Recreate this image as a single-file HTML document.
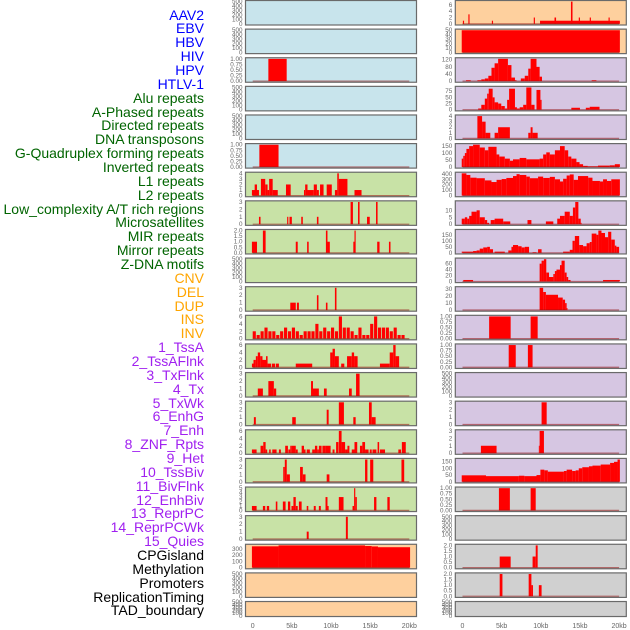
<!DOCTYPE html>
<html><head><meta charset="utf-8"><style>
html,body{margin:0;padding:0;background:#fff;width:630px;height:630px;overflow:hidden}
#lbls{position:absolute;left:0;top:0;width:204px;height:630px}
.lb{position:absolute;right:0;font:14px "Liberation Sans",sans-serif;white-space:nowrap;line-height:14px}
svg{position:absolute;left:0;top:0}
</style></head><body>
<div id="lbls"></div>
<svg id="chart" width="630" height="630"></svg>
<script>
// ---- labels ----
const labelNames=["AAV2","EBV","HBV","HIV","HPV","HTLV-1","Alu repeats","A-Phased repeats","Directed repeats","DNA transposons","G-Quadruplex forming repeats","Inverted repeats","L1 repeats","L2 repeats","Low_complexity A/T rich regions","Microsatellites","MIR repeats","Mirror repeats","Z-DNA motifs","CNV","DEL","DUP","INS","INV","1_TssA","2_TssAFlnk","3_TxFlnk","4_Tx","5_TxWk","6_EnhG","7_Enh","8_ZNF_Rpts","9_Het","10_TssBiv","11_BivFlnk","12_EnhBiv","13_ReprPC","14_ReprPCWk","15_Quies","CPGisland","Methylation","Promoters","ReplicationTiming","TAD_boundary"];
const labelGroups=[6,13,5,15,5];
const groupColors=["#0000ff","#006400","#ffa500","#a020f0","#000000"];

// ---- x axis ----
const xTicks=[0,5,10,15,20];
const xTickLabels=["0","5kb","10kb","15kb","20kb"];

// ---- tick sets ----
const T500=[0,100,200,300,400,500], T1=[0,0.25,0.5,0.75,1], T2=[0,0.5,1,1.5,2];
const T3=[0,1,2,3], T4=[0,1,2,3,4], T5=[0,1,2,3,4,5], T6=[0,2,4,6];

// ---- left column segments [startKb,endKb,value] ----
const L1=[],L2=[],L4=[],L5=[],L10=[],L21=[],L22=[];
const L3=[[2.0,4.34,1]];
const L6=[[0.85,3.3,1]];
const L7=[[-0.1,0.8,1],[0.25,0.55,2],[1.05,1.6,3],[1.6,1.9,2],[1.9,2.1,1],[2.1,2.55,3],[2.55,3.2,1],[4.25,4.85,2],[6.55,6.7,1],[6.7,7.0,2],[7.0,7.8,1],[7.8,8.2,2],[8.2,8.45,1],[8.6,9.05,2],[9.45,10.1,2],[10.5,10.8,1],[10.8,11.0,4],[11.0,12.1,3],[13.0,13.9,1]];
const L8=[[0.8,1.0,1],[4.4,4.55,1],[4.7,5.0,1],[6.2,6.4,1],[8.2,8.4,1],[12.5,12.8,3],[13.45,13.65,3],[14.6,14.95,1],[15.75,15.95,3]];
const L9=[[-0.1,0.55,1],[1.3,1.65,2],[5.5,5.75,1],[6.95,7.15,1],[9.35,9.55,2],[9.55,9.85,1],[12.85,13.0,1],[13.0,13.15,2],[15.9,16.2,1],[17.4,17.6,1]];
const L11=[[4.8,5.5,1],[5.65,5.9,1],[8.2,8.4,2],[9.35,9.55,1],[10.5,10.7,3]];
const L12vals=[2,1,2,3,2,2,1,2,3,2,3,2,1,2,2,2,4,2,3,2,3,2,6,3,3,2,1,3,1,1,4,6,3,3,3,2,3,1,1,0];
const L13=[[-0.1,0.3,1],[0.1,0.4,2],[0.4,0.65,3],[0.65,0.95,4],[0.95,1.25,3],[1.25,1.7,2],[1.7,1.9,3],[1.9,2.35,1],[2.45,2.85,1],[2.95,3.35,1],[5.5,7.6,1],[9.9,10.2,4],[10.2,10.5,5],[10.5,11.0,3],[11.3,11.7,1],[12.05,12.65,3],[12.65,12.95,4],[12.95,13.4,3],[16.25,17.5,1],[17.5,17.95,4],[17.95,18.25,6],[18.25,18.7,3]];
const L14=[[0.65,1.3,1],[2.0,2.7,2],[2.7,3.0,1],[7.45,7.7,2],[7.7,8.45,1],[9.1,9.45,1],[12.3,12.65,1],[13.2,13.65,3]];
const L15=[[0.15,0.4,1],[5.05,5.5,1],[9.45,9.7,2],[11.0,11.65,3],[12.85,13.15,1],[14.85,15.2,3],[15.2,15.7,1]];
const L16=[[-0.1,0.5,1],[1.0,1.35,2],[1.35,1.65,3],[1.65,1.85,1],[2.1,2.3,1],[2.5,3.05,1],[3.35,3.6,1],[4.15,4.5,2],[4.55,4.8,1],[4.8,4.98,2],[4.98,5.5,2],[5.5,5.75,1],[6.25,6.55,2],[6.55,6.75,1],[6.9,7.3,1],[7.6,7.95,1],[7.95,8.25,2],[8.25,8.45,1],[8.45,8.8,2],[8.9,9.25,2],[9.25,9.95,2],[10.2,10.45,1],[10.65,10.95,3],[11.0,11.35,6],[11.35,11.8,3],[11.8,12.1,1],[12.1,12.35,2],[12.65,13.0,1],[13.0,13.35,3],[13.7,14.0,2],[14.0,14.35,3],[14.35,14.8,1],[14.95,15.2,1],[15.3,15.8,1],[15.95,16.15,3],[16.25,16.9,1],[18.6,18.95,1],[19.05,19.55,3]];
const L17=[[3.9,4.1,2],[4.1,4.35,3],[4.35,4.75,1],[6.05,6.4,2],[6.4,6.75,1],[9.45,9.8,1],[14.35,14.65,3],[15.0,15.4,3],[19.0,19.35,3]];
const L18=[[-0.1,0.5,1],[1.3,1.6,1],[1.8,2.1,1],[2.95,3.15,2],[3.85,4.2,2],[4.5,4.8,2],[4.95,5.2,1],[5.2,5.5,3],[5.5,5.75,1],[5.9,6.25,2],[6.9,7.1,1],[7.8,8.05,1],[8.45,8.7,1],[9.3,9.55,3],[9.55,9.7,1],[11.0,11.6,3],[12.75,12.95,1],[12.95,13.1,5],[13.1,13.3,3],[15.5,15.8,3],[17.2,17.5,3]];
const L19=[[6.9,7.15,1],[11.9,12.15,3]];
const L20=[[-0.1,3.3,340],[3.3,14.35,355],[14.35,15.2,345],[15.2,16.0,338],[16.0,20.1,326]];

// ---- right column ----
const R14=[],R19=[],R22=[];
const R1=[[0.05,0.2,1],[0.75,0.9,3],[3.75,3.9,1],[9.1,9.25,2],[9.9,20.1,1],[11.75,11.95,2],[13.85,14.05,7],[14.85,15.0,2],[16.25,16.4,2],[18.65,18.8,2]];
const R2=[[-0.1,20.1,50]];
const R3=[[0.45,1.05,5],[1.9,2.4,5],[2.4,2.85,10],[2.85,3.3,15],[3.3,3.7,30],[3.7,4.1,75],[4.1,4.55,100],[4.55,5.8,125],[5.8,6.25,90],[6.25,6.7,20],[6.7,6.9,5],[7.45,7.95,15],[7.95,8.4,30],[8.4,8.7,70],[8.7,9.45,125],[9.45,9.85,80],[9.85,10.15,25],[16.5,17.1,5]];
const R4=[[2.0,2.4,5],[2.4,2.85,20],[2.85,3.15,45],[3.15,3.35,65],[3.35,3.85,85],[3.85,4.1,50],[4.1,4.55,30],[4.55,4.95,25],[4.95,5.4,15],[5.4,5.7,5],[5.7,5.95,40],[5.95,6.7,85],[6.7,6.95,10],[6.95,7.3,5],[7.3,7.75,10],[7.75,8.15,20],[8.15,8.8,90],[8.8,9.2,20],[9.45,9.95,80],[9.95,10.1,40],[13.9,15.0,8],[15.75,16.25,8],[16.25,17.5,12]];
const R5=[[1.9,2.5,4],[2.5,2.95,3],[2.95,3.55,1],[4.1,4.55,1],[4.55,6.05,2],[8.4,8.7,1],[8.7,8.95,2],[8.95,9.6,1]];
const R6=[[-0.1,0.1,60],[0.1,0.3,80],[0.3,0.5,100],[0.5,0.85,130],[0.85,1.35,150],[1.35,2.2,160],[2.2,2.85,140],[2.85,3.3,120],[3.3,4.35,145],[4.35,4.7,90],[4.7,5.4,75],[5.4,6.05,60],[6.05,6.45,45],[6.45,7.3,55],[7.3,8.15,65],[8.15,9.85,55],[9.85,10.3,60],[10.3,10.7,90],[10.7,11.15,105],[11.15,11.8,90],[11.8,12.45,120],[12.45,13.05,150],[13.05,13.5,120],[13.5,13.9,75],[13.9,14.55,60],[14.55,14.95,35],[14.95,15.4,20],[15.4,16.0,8],[16.0,17.3,5],[17.3,18.8,10],[18.8,19.45,12],[19.45,20.1,20]];
const R7=[[-0.1,0.5,410],[0.5,1.0,380],[1.0,1.8,330],[1.8,2.85,320],[2.85,3.7,280],[3.7,4.35,250],[4.35,5.0,290],[5.0,5.6,305],[5.6,6.45,325],[6.45,6.9,360],[6.9,7.3,395],[7.3,8.15,380],[8.15,8.6,350],[8.6,9.65,320],[9.65,10.3,350],[10.3,11.15,325],[11.15,11.8,345],[11.8,12.45,300],[12.45,12.85,260],[12.85,13.3,310],[13.3,13.7,370],[13.7,14.2,390],[14.2,14.75,290],[14.75,16.05,360],[16.05,16.6,330],[16.6,17.55,270],[17.55,17.95,260],[17.95,18.45,300],[18.45,19.0,270],[19.0,20.1,300]];
const R8=[[-0.1,0.3,4],[0.3,0.6,5],[0.6,0.85,4],[0.85,1.15,6],[1.15,1.8,9],[1.8,2.2,10],[2.2,2.85,5],[2.85,3.15,3],[3.15,3.4,1],[3.6,4.1,3],[4.1,5.2,4],[5.2,6.1,2],[8.3,8.8,3],[10.65,11.6,2],[12.1,12.45,4],[12.45,13.05,6],[13.05,13.7,9],[13.7,14.1,6],[14.1,14.4,12],[14.4,14.8,16],[14.8,15.1,4],[15.1,15.2,1]];
const R9=[[-0.1,1.35,10],[1.35,1.8,15],[1.8,2.2,20],[2.2,2.65,35],[2.65,3.15,45],[3.15,3.5,50],[3.5,3.9,30],[4.1,5.4,10],[5.85,6.25,20],[6.25,6.45,50],[6.45,7.1,65],[7.1,7.55,55],[7.55,7.95,45],[7.95,8.5,50],[8.95,9.45,5],[9.65,10.1,30],[12.85,13.7,10],[13.7,14.05,25],[14.05,14.35,100],[14.35,14.9,140],[14.9,15.4,65],[15.4,15.85,55],[15.85,16.25,80],[16.25,16.5,90],[16.5,17.1,160],[17.1,17.35,150],[17.35,17.75,185],[17.75,18.2,165],[18.2,18.6,130],[18.6,19.0,175],[19.0,19.45,110],[19.45,19.65,60],[19.65,20.0,50]];
const R10=[[0.1,1.35,5],[9.85,10.1,60],[10.1,10.4,70],[10.4,10.7,75],[10.7,11.05,30],[11.05,11.6,15],[11.6,11.8,25],[11.8,12.0,35],[12.0,12.45,40],[12.45,12.65,55],[12.65,13.05,70],[13.05,13.3,30],[13.3,13.5,15],[13.5,13.8,5],[17.95,20.1,5]];
const R11=[[9.85,10.3,32],[10.3,10.65,26],[10.65,12.2,22],[12.2,12.8,18],[12.8,13.1,15],[13.1,13.3,10],[13.3,13.4,3]];
const R12=[[3.4,6.15,1],[8.7,9.6,1]];
const R13=[[5.9,6.8,1],[8.35,8.95,1]];
const R15=[[10.1,10.75,3]];
const R16=[[2.35,4.35,1],[9.75,9.85,1],[9.85,10.4,3]];
const R17=[[-0.1,3.0,48],[3.0,7.2,42],[7.2,7.9,45],[7.9,9.45,42],[9.45,9.95,50],[9.95,10.45,90],[10.45,10.9,85],[10.9,12.95,75],[12.95,13.3,80],[13.3,14.0,90],[14.0,14.45,80],[14.45,14.85,85],[14.85,15.3,100],[15.3,16.15,108],[16.15,16.6,115],[16.6,17.65,120],[17.65,18.85,128],[18.85,19.35,140],[19.35,19.8,148],[19.8,20.1,165]];
const R18=[[4.65,6.05,1],[8.7,9.35,1]];
const R20=[[4.75,6.15,1],[8.95,9.35,1],[9.35,9.6,2]];
const R21=[[4.75,5.1,2],[8.45,8.8,2],[8.8,9.0,1],[9.75,10.1,1]];

const binsToSegs=(vals,w)=>vals.map((v,i)=>[i*w,i*w+w*0.8,v]).filter(s=>s[2]>0);
const L12=binsToSegs(L12vals,0.5);

const leftSegs=[L1,L2,L3,L4,L5,L6,L7,L8,L9,L10,L11,L12,L13,L14,L15,L16,L17,L18,L19,L20,L21,L22];
const leftTicks=[T500,T500,T1,T500,T500,T1,T4,T3,T2,T500,T3,T6,T6,T3,T3,T6,T3,T5,T3,[0,100,200,300],T500,T500];
const leftFmt=[0,0,2,0,0,2,0,0,1,0,0,0,0,0,0,0,0,0,0,0,0,0];
const leftFill=["#c8e4ec","#c8e4ec","#c8e4ec","#c8e4ec","#c8e4ec","#c8e4ec","#c8e2a6","#c8e2a6","#c8e2a6","#c8e2a6","#c8e2a6","#c8e2a6","#c8e2a6","#c8e2a6","#c8e2a6","#c8e2a6","#c8e2a6","#c8e2a6","#c8e2a6","#fed09e","#fed09e","#fed09e"];
const rightSegs=[R1,R2,R3,R4,R5,R6,R7,R8,R9,R10,R11,R12,R13,R14,R15,R16,R17,R18,R19,R20,R21,R22];
const rightTicks=[T6,[0,10,20,30,40,50],[0,40,80,120],[0,25,50,75],T4,[0,50,100,150],[0,100,200,300,400],[0,5,10],[0,50,100,150],[0,20,40,60],[0,10,20,30],T1,T1,T500,T3,T3,[0,50,100,150],T1,T500,T2,T2,T500];
const rightFmt=[0,0,0,0,0,0,0,0,0,0,0,2,2,0,0,0,0,2,0,1,1,0];
const rightFill=["#fed09e","#fed09e","#d6c6e2","#d6c6e2","#d6c6e2","#d6c6e2","#d6c6e2","#d6c6e2","#d6c6e2","#d6c6e2","#d6c6e2","#d6c6e2","#d6c6e2","#d6c6e2","#d6c6e2","#d6c6e2","#d6c6e2","#d0d0d0","#d0d0d0","#d0d0d0","#d0d0d0","#d0d0d0"];

// ---- build labels ----
const lbls=document.getElementById('lbls');
let gi=0,cnt=0;
labelNames.forEach((n,i)=>{
  if(cnt>=labelGroups[gi]){gi++;cnt=0;}
  cnt++;
  const d=document.createElement('div');
  d.className='lb';
  
  
  d.style.top=(15+i*13.86-7.5)+'px';
  d.style.color=groupColors[gi];
  d.textContent=n;
  lbls.appendChild(d);
});

// ---- build panels ----
const svg=document.getElementById('chart');
const NS='http://www.w3.org/2000/svg';
const X0=-0.92,X1=20.92,PW=171;
function mk(tag,attrs,parent){const e=document.createElementNS(NS,tag);for(const k in attrs)e.setAttribute(k,attrs[k]);parent.appendChild(e);return e;}
function xScale(left,kb){return left+(kb-X0)/(X1-X0)*PW;}
function drawPanel(left,row,segs,ticks,fmt,fill){
  const top=0.5+row*28.62, h=(row===21)?15:24.5;
  const g=mk('g',{},svg);
  
  
  const maxV=Math.max(ticks[ticks.length-1],...segs.map(s=>s[2]));
  const y0=-0.05*maxV,y1=1.05*maxV;
  const yScale=v=>top+h-(v-y0)/(y1-y0)*h;
  const bg=mk('rect',{x:left,y:top,width:PW,height:h,fill:fill},g);
  
  
  const clipId='c'+left+'_'+row;
  const cp=mk('clipPath',{id:clipId},g);
  mk('rect',{x:left,y:top,width:PW,height:h},cp);
  const bars=mk('g',{'clip-path':'url(#'+clipId+')'},g);
  segs.forEach(s=>{
    const x1=xScale(left,s[0]),x2=xScale(left,s[1]);
    const r=mk('rect',{x:x1,y:yScale(s[2]),width:Math.max(0.8,x2-x1),height:yScale(0)-yScale(s[2]),fill:'#ff0000'},bars);
    
    
  });
  if(segs.length){
    const bl=mk('line',{x1:xScale(left,0),x2:xScale(left,20),y1:yScale(0),y2:yScale(0),stroke:'rgba(150,20,20,0.55)','stroke-width':1.3},g);
    
    
  }
  const bd=mk('rect',{x:left,y:top,width:PW,height:h,fill:'none',stroke:'#6a6a6a','stroke-width':1.2},g);
  
  
  ticks.forEach(t=>{
    const tx=mk('text',{x:left-3,y:yScale(t)+2,'text-anchor':'end','font-size':6.3,fill:'#666','font-family':'Liberation Sans, sans-serif'},g);
    
    
    tx.textContent=t.toFixed(fmt);
  });
}
leftSegs.forEach((s,i)=>drawPanel(245.5,i,s,leftTicks[i],leftFmt[i],leftFill[i]));
rightSegs.forEach((s,i)=>drawPanel(455.3,i,s,rightTicks[i],rightFmt[i],rightFill[i]));
[245.5,455.3].forEach(left=>{
  xTicks.forEach((t,i)=>{
    const tx=mk('text',{x:xScale(left,t),y:628,'text-anchor':'middle','font-size':7,fill:'#666','font-family':'Liberation Sans, sans-serif'},svg);
    
    
    tx.textContent=xTickLabels[i];
  });
});
</script>
</body></html>
